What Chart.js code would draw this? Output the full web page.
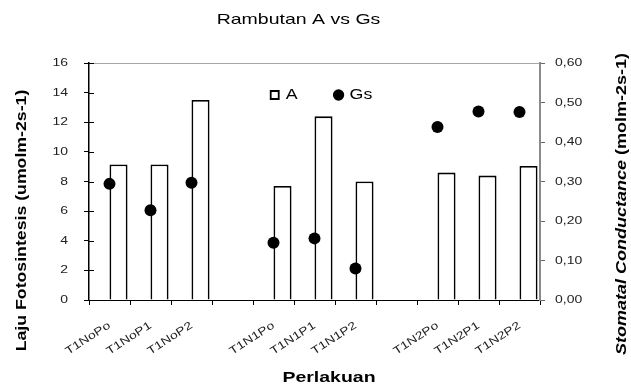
<!DOCTYPE html>
<html><head><meta charset="utf-8">
<script src="https://cdn.jsdelivr.net/npm/chart.js@4.4.0/dist/chart.umd.min.js"></script>
<style>html,body{margin:0;padding:0;background:#fff;} canvas{display:block;}</style>
</head><body>
<canvas id="c" width="631" height="385"></canvas>
<script>
// ---- data ----
const chartTitle = 'Rambutan A vs Gs';
const categories = ['T1NoPo','T1NoP1','T1NoP2','','T1N1Po','T1N1P1','T1N1P2','','T1N2Po','T1N2P1','T1N2P2'];
const valuesA  = [9.15, 9.15, 13.5, null, 7.7, 12.4, 8.0, null, 8.6, 8.4, 9.05];
const valuesGs = [0.294, 0.227, 0.297, null, 0.145, 0.156, 0.080, null, 0.438, 0.477, 0.476];
const spacer = categories.map(() => null);
const xTitle = 'Perlakuan';
const yTitle = 'Laju Fotosintesis (umolm-2s-1)';
const y1TitleItalic = 'Stomatal Conductance ';
const y1TitleUnit = '(molm-2s-1)';
const FONT = '"Liberation Sans", Arial, sans-serif';

// ---- wide-text rendering (reference font is drawn wider than Arial) ----
const canvas = document.getElementById('c');
const g = canvas.getContext('2d');
let stretch = 1.27;
const baseFill = CanvasRenderingContext2D.prototype.fillText;
const baseMeasure = CanvasRenderingContext2D.prototype.measureText;
g.fillText = function (t, x, y) {
  this.save(); this.translate(x, y); this.scale(stretch, 1);
  baseFill.call(this, t, 0, 0); this.restore();
};
g.measureText = function (t) {
  const m = baseMeasure.call(this, t);
  return { width: m.width * stretch,
    actualBoundingBoxAscent: m.actualBoundingBoxAscent, actualBoundingBoxDescent: m.actualBoundingBoxDescent,
    actualBoundingBoxLeft: m.actualBoundingBoxLeft * stretch, actualBoundingBoxRight: m.actualBoundingBoxRight * stretch,
    fontBoundingBoxAscent: m.fontBoundingBoxAscent, fontBoundingBoxDescent: m.fontBoundingBoxDescent };
};

const titlesPlugin = {
  id: 'titles',
  beforeLayout(chart) {
    // legend sits inside the plot area but lays its items out in one row
    if (chart.legend) chart.legend.isHorizontal = () => true;
  },
  afterLayout(chart) {
    const lg = chart.legend, a = chart.chartArea;
    if (lg) { lg.left = a.left + 7; lg.right = a.right + 7; lg.top = a.top - 12; lg.bottom = lg.top + lg.height; }
  },
  afterDraw(chart) {
    const c = chart.ctx, a = chart.chartArea, ys = chart.scales.y;
    c.save();
    // inner halves of the left-axis tick marks
    c.strokeStyle = '#000'; c.lineWidth = 1;
    ys.ticks.forEach((t) => {
      const py = Math.round(ys.getPixelForValue(t.value)) + 0.5;
      c.beginPath(); c.moveTo(a.left, py); c.lineTo(a.left + 5, py); c.stroke();
    });
    c.fillStyle = '#000';
    c.textBaseline = 'alphabetic';
    c.textAlign = 'center';
    stretch = 1.3;
    c.font = '15px ' + FONT;
    c.fillText(chartTitle, 298.5, 24);
    c.font = 'bold 15px ' + FONT;
    c.fillText(xTitle, 329, 382);
    stretch = 1.18;
    c.save(); c.translate(26, 220.5); c.rotate(-Math.PI / 2);
    c.fillText(yTitle, 0, 0);
    c.restore();
    stretch = 1.2;
    c.save(); c.translate(626, 204); c.rotate(-Math.PI / 2);
    c.font = 'italic bold 15px ' + FONT; const w1 = c.measureText(y1TitleItalic).width;
    c.font = 'bold 15px ' + FONT; const w2 = c.measureText(y1TitleUnit).width;
    c.textAlign = 'left';
    const x0 = -(w1 + w2) / 2;
    c.font = 'italic bold 15px ' + FONT; c.fillText(y1TitleItalic, x0, 0);
    c.font = 'bold 15px ' + FONT; c.fillText(y1TitleUnit, x0 + w1, 0);
    c.restore();
    stretch = 1.27;
    c.restore();
  }
};

const tickFont = { family: FONT, size: 11 };

new Chart(g, {
  data: {
    labels: categories,
    datasets: [
      { type: 'bar', label: '', data: spacer, yAxisID: 'y', order: 1,
        backgroundColor: 'rgba(0,0,0,0)', categoryPercentage: 0.88, barPercentage: 1 },
      { type: 'bar', label: 'A', data: valuesA, yAxisID: 'y', order: 1,
        backgroundColor: '#fff', borderColor: '#000', borderWidth: 1.8, pointStyle: 'rect',
        categoryPercentage: 0.88, barPercentage: 1 },
      { type: 'line', label: 'Gs', data: valuesGs, yAxisID: 'y1', order: 0,
        showLine: false, pointStyle: 'circle', pointRadius: 6, pointHoverRadius: 6,
        backgroundColor: '#000', borderColor: '#000', borderWidth: 0 }
    ]
  },
  options: {
    responsive: false, animation: false, devicePixelRatio: 1,
    layout: { padding: { top: 63, left: 0, right: 0, bottom: 0 } },
    plugins: {
      title: { display: false },
      tooltip: { enabled: false },
      legend: {
        display: true, position: 'chartArea', align: 'center',
        labels: {
          usePointStyle: true, boxWidth: 8, boxHeight: 8, padding: 37, color: '#000',
          font: { family: FONT, size: 14 },
          filter: (it) => it.text !== '',
          sort: (a, b) => a.datasetIndex - b.datasetIndex
        }
      }
    },
    scales: {
      x: {
        type: 'category', offset: true,
        grid: { display: true, drawOnChartArea: false, offset: true, tickLength: 5, color: '#000', tickColor: '#000' },
        border: { display: true, color: '#000', width: 1 },
        ticks: { autoSkip: false, minRotation: 33, maxRotation: 33, padding: 14, color: '#222', font: tickFont },
        afterFit: (s) => { s.height = 85; }
      },
      y: {
        position: 'left', min: 0, max: 16,
        ticks: { stepSize: 2, padding: 16, color: '#222', font: tickFont },
        grid: { drawOnChartArea: true, tickLength: 5,
          color: (c) => (c.tick && c.tick.value === 16 ? '#a6a6a6' : 'rgba(0,0,0,0)'), tickColor: '#000' },
        border: { color: '#000', width: 1.5 },
        afterFit: (s) => { s.width = 89; }
      },
      y1: {
        position: 'right', min: 0, max: 0.6,
        ticks: { stepSize: 0.1, padding: 10, color: '#222', font: tickFont,
          callback: (v) => v.toFixed(2).replace('.', ',') },
        grid: { drawOnChartArea: false, tickLength: 5, tickColor: '#666' },
        border: { color: '#8a8a8a', width: 2 },
        afterFit: (s) => { s.width = 91; }
      }
    }
  },
  plugins: [titlesPlugin]
});
</script>
</body></html>
